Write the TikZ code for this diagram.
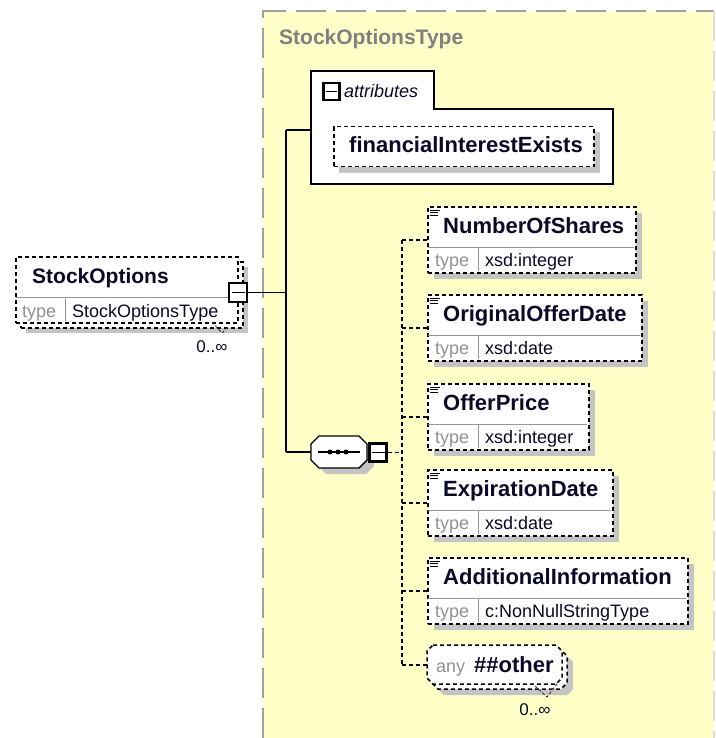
\documentclass[tikz,border=0pt]{standalone}
\usepackage{fontspec}
\setmainfont{Liberation Sans}
\begin{document}
\definecolor{typeyellow}{RGB}{255,255,200}
\definecolor{shadowgray}{RGB}{196,196,196}
\definecolor{bordergray}{RGB}{160,160,160}
\definecolor{labelgray}{RGB}{145,145,145}
\definecolor{titlegray}{RGB}{128,128,128}
\definecolor{sepgray}{RGB}{150,150,150}
\definecolor{namecol}{RGB}{10,10,40}
\newcommand{\xsdelem}[6]{%
  \fill[shadowgray] (#2+7,#3+7) rectangle (#2+#4+7,#3+73);
  \node[elembox, minimum width=#4pt, minimum height=66pt] (#1) at (#2,#3) {};
  \draw[sepline] (#2+1,#3+41) -- (#2+#4-1,#3+41);
  \draw[sepline] (#2+51,#3+41) -- (#2+51,#3+65);
  \draw[black, line width=0.9pt] (#2+3,#3+4) -- (#2+13,#3+4) (#2+3,#3+6.5) -- (#2+11,#3+6.5) (#2+3,#3+9) -- (#2+11,#3+9);
  \node[namefont, anchor=base west] (#1-name) at (#2+16,#3+27) {#5};
  \node[typelbl, anchor=base west] (#1-tl) at (#2+8,#3+60) {type};
  \node[typeval, anchor=base west] (#1-tv) at (#2+58,#3+60) {#6};
  \coordinate (#1-in) at (#2,#3+34);
}
\begin{tikzpicture}[x=1pt,y=-1pt,
  namefont/.style={font=\bfseries\fontsize{22}{25}\selectfont, text=namecol, inner sep=0pt},
  smallfont/.style={font=\fontsize{18}{20}\selectfont, inner sep=0pt},
  typelbl/.style={smallfont, text=labelgray},
  typeval/.style={smallfont, text=namecol},
  elembox/.style={draw=black, fill=white, line width=1.5pt, dash pattern=on 4pt off 3pt, rectangle, inner sep=0pt, anchor=north west},
  sepline/.style={draw=sepgray, line width=1pt},
  solidconn/.style={draw=black, line width=1.4pt},
  dashconn/.style={draw=black, line width=1.5pt, dash pattern=on 4pt off 3pt},
  thindash/.style={draw=black!80, line width=0.9pt, dash pattern=on 3pt off 2pt},
  minusbox/.style={draw=black, fill=white, line width=2.4pt, rectangle, inner sep=0pt},
  minusline/.style={draw=black, line width=1.1pt},
  card/.style={font=\fontsize{17}{20}\selectfont, text=namecol, inner sep=0pt},
]
\useasboundingbox (0,0) rectangle (715,738);
% complex type area
\fill[typeyellow] (263,11) rectangle (714,738);
\draw[bordergray, line width=1.6pt, dash pattern=on 30pt off 10pt] (263,738) -- (263,11) -- (714,11);
\draw[bordergray!35, line width=1.5pt, dash pattern=on 30pt off 10pt] (714,11) -- (714,738);
\node[font=\bfseries\fontsize{21}{24}\selectfont, text=titlegray, inner sep=0pt, anchor=base west] (title) at (279,45) {StockOptionsType};

% attributes group
\node[inner sep=0pt, minimum width=302pt, minimum height=113pt, anchor=north west] (attr) at (311,71) {};
\draw[black, line width=1.5pt, fill=white] (311,71) -- (434,71) -- (434,109) -- (613,109) -- (613,184) -- (311,184) -- cycle;
\node[minusbox, minimum width=16pt, minimum height=17pt] (attrmin) at (331.5,91.5) {};
\draw[minusline] (326,91.5) -- (337,91.5);
\node[font=\itshape\fontsize{18}{20}\selectfont, text=namecol, inner sep=0pt, anchor=base west] (attrlbl) at (344,98) {attributes};
\fill[shadowgray] (339,132) rectangle (600,173);
\node[elembox, minimum width=260pt, minimum height=40pt] (fie) at (333,126) {};
\node[namefont, anchor=base west] (fie-name) at (349,153) {financialInterestExists};

% StockOptions element (multiple)
\fill[shadowgray] (26,267) rectangle (248,333);
\node[elembox, minimum width=222pt, minimum height=66pt] (soback) at (20,261) {};
\node[elembox, minimum width=222pt, minimum height=66pt] (so) at (15,256) {};
\draw[sepline] (16,297) -- (236,297);
\draw[sepline] (65,297) -- (65,321);
\node[namefont, font=\bfseries\fontsize{21}{24}\selectfont, anchor=base west] (so-name) at (32,283) {StockOptions};
\node[typelbl, anchor=base west] (so-tl) at (22,317) {type};
\node[typeval, anchor=base west] (so-tv) at (72,317) {StockOptionsType};
\draw[thindash] (212,322) -- (222,333) -- (229,326);
\node[card, anchor=base] (so-card) at (212,352) {0..∞};
\node[minusbox, minimum width=18pt, minimum height=19pt] (somin) at (238,292.5) {};
\draw[minusline] (231.5,292.5) -- (244.5,292.5);

% main connectors
\coordinate (j1) at (286,292.5);
\coordinate (jtop) at (286,130);
\coordinate (jbot) at (286,452);
\draw[solidconn] (somin.east) -- (j1);
\draw[solidconn] (jtop) -- (jbot);
\draw[solidconn] (jtop) -- (attr.west |- jtop);

% sequence compositor
\node[inner sep=0pt, minimum width=56pt, minimum height=32pt] (seq) at (339,452) {};
\fill[shadowgray] (326,443) -- (366,443) -- (374,451) -- (374,466) -- (366,474) -- (326,474) -- (318,466) -- (318,451) -- cycle;
\draw[black, line width=1.4pt, fill=white] (319,436) -- (359,436) -- (367,444) -- (367,460) -- (359,468) -- (319,468) -- (311,460) -- (311,444) -- cycle;
\draw[black, line width=1.1pt] (318,452) -- (360,452);
\fill[black] (330,452) circle (2.5) (338,452) circle (2.5) (346,452) circle (2.5);
\draw[solidconn] (jbot) -- (seq.west);
\node[minusbox, minimum width=17pt, minimum height=18pt] (seqmin) at (378,452.5) {};
\draw[minusline] (371.5,452.5) -- (384.5,452.5);

% children
\xsdelem{nos}{427}{206}{208}{NumberOfShares}{xsd:integer}
\xsdelem{ood}{427}{294}{214}{OriginalOfferDate}{xsd:date}
\xsdelem{op}{427}{383}{161}{OfferPrice}{xsd:integer}
\xsdelem{ed}{427}{469}{185}{ExpirationDate}{xsd:date}
\xsdelem{ai}{427}{557}{260}{AdditionalInformation}{c:NonNullStringType}

% any ##other (multiple)
\fill[shadowgray] (444,656) -- (567,656) -- (573,662) -- (573,689) -- (567,695) -- (444,695) -- (438,689) -- (438,662) -- cycle;
\draw[black, line width=1.5pt, dash pattern=on 4pt off 3pt, fill=white] (438,650) -- (561,650) -- (567,656) -- (567,683) -- (561,689) -- (438,689) -- (432,683) -- (432,656) -- cycle;
\draw[black, line width=1.5pt, dash pattern=on 4pt off 3pt, fill=white] (433,645) -- (556,645) -- (562,651) -- (562,678) -- (556,684) -- (433,684) -- (427,678) -- (427,651) -- cycle;
\node[inner sep=0pt, minimum width=135pt, minimum height=39pt, anchor=north west] (any) at (427,645) {};
\coordinate (any-in) at (427,665);
\node[typelbl, anchor=base west] (any-tl) at (436,672) {any};
\node[namefont, anchor=base west] (any-name) at (474,672) {\#\#other};
\draw[thindash] (535,686) -- (547,697) -- (560,680);
\node[card, anchor=base] (any-card) at (535,715) {0..∞};

% sequence children connectors
\coordinate (vl) at (402,452.5);
\draw[dashconn] (seqmin.east) -- (vl);
\draw[dashconn] (nos-in -| vl) -- (any-in -| vl);
\draw[dashconn] (nos-in -| vl) -- (nos-in);
\draw[dashconn] (ood-in -| vl) -- (ood-in);
\draw[dashconn] (op-in -| vl) -- (op-in);
\draw[dashconn] (ed-in -| vl) -- (ed-in);
\draw[dashconn] (ai-in -| vl) -- (ai-in);
\draw[dashconn] (any-in -| vl) -- (any-in);
\end{tikzpicture}
\end{document}
